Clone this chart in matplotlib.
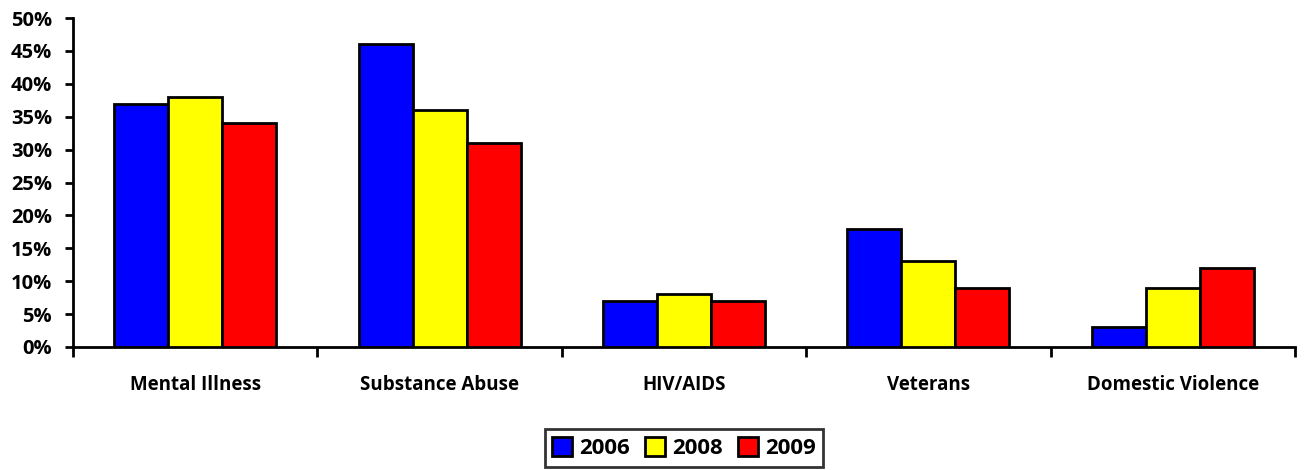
import matplotlib.pyplot as plt
import numpy as np
from matplotlib.ticker import PercentFormatter

plt.rcParams['font.family'] = ['Open Sans', 'DejaVu Sans']
plt.rcParams['font.weight'] = 'bold'

categories = ['Mental Illness', 'Substance Abuse', 'HIV/AIDS', 'Veterans', 'Domestic Violence']
years = ['2006', '2008', '2009']
v2006 = [37, 46, 7, 18, 3]
v2008 = [38, 36, 8, 13, 9]
v2009 = [34, 31, 7, 9, 12]
colors = ['#0000FF', '#FFFF00', '#FF0000']

fig = plt.figure(figsize=(13.05, 4.7), dpi=100)
ax = fig.add_axes([73 / 1305, 1 - 347 / 470, (1295 - 73) / 1305, (347 - 18) / 470])

x = np.arange(len(categories))
w = 0.221
for i, (vals, c, lab) in enumerate(zip([v2006, v2008, v2009], colors, years)):
    ax.bar(x + (i - 1) * w, vals, w, color=c, edgecolor='black', linewidth=2, label=lab, zorder=3)

ax.set_xlim(-0.5, len(categories) - 0.5)
ax.set_ylim(0, 50)
ax.set_yticks(np.arange(0, 51, 5))
ax.yaxis.set_major_formatter(PercentFormatter(decimals=0))
ax.set_xticks(np.arange(-0.5, len(categories)), minor=False)
ax.set_xticklabels([])
ax.set_xticks(x, minor=True)
ax.set_xticklabels(categories, minor=True)
ax.tick_params(axis='x', which='major', length=7, width=2, direction='out')
ax.tick_params(axis='x', which='minor', length=0, pad=20, labelsize=13.5)
ax.tick_params(axis='y', length=6, width=2, labelsize=14.5, pad=9)

for s in ['top', 'right']:
    ax.spines[s].set_visible(False)
ax.spines['left'].set_linewidth(2)
ax.spines['bottom'].set_linewidth(2)

leg = fig.legend(loc='center', bbox_to_anchor=(684 / 1305, 1 - 448 / 470), ncol=3,
                 frameon=True, fancybox=False, edgecolor='black', fontsize=16,
                 handlelength=0.9, handleheight=0.9, handletextpad=0.3, columnspacing=0.7,
                 borderpad=0.35)
leg.get_frame().set_linewidth(2)

fig.savefig('out.png', dpi=100)
